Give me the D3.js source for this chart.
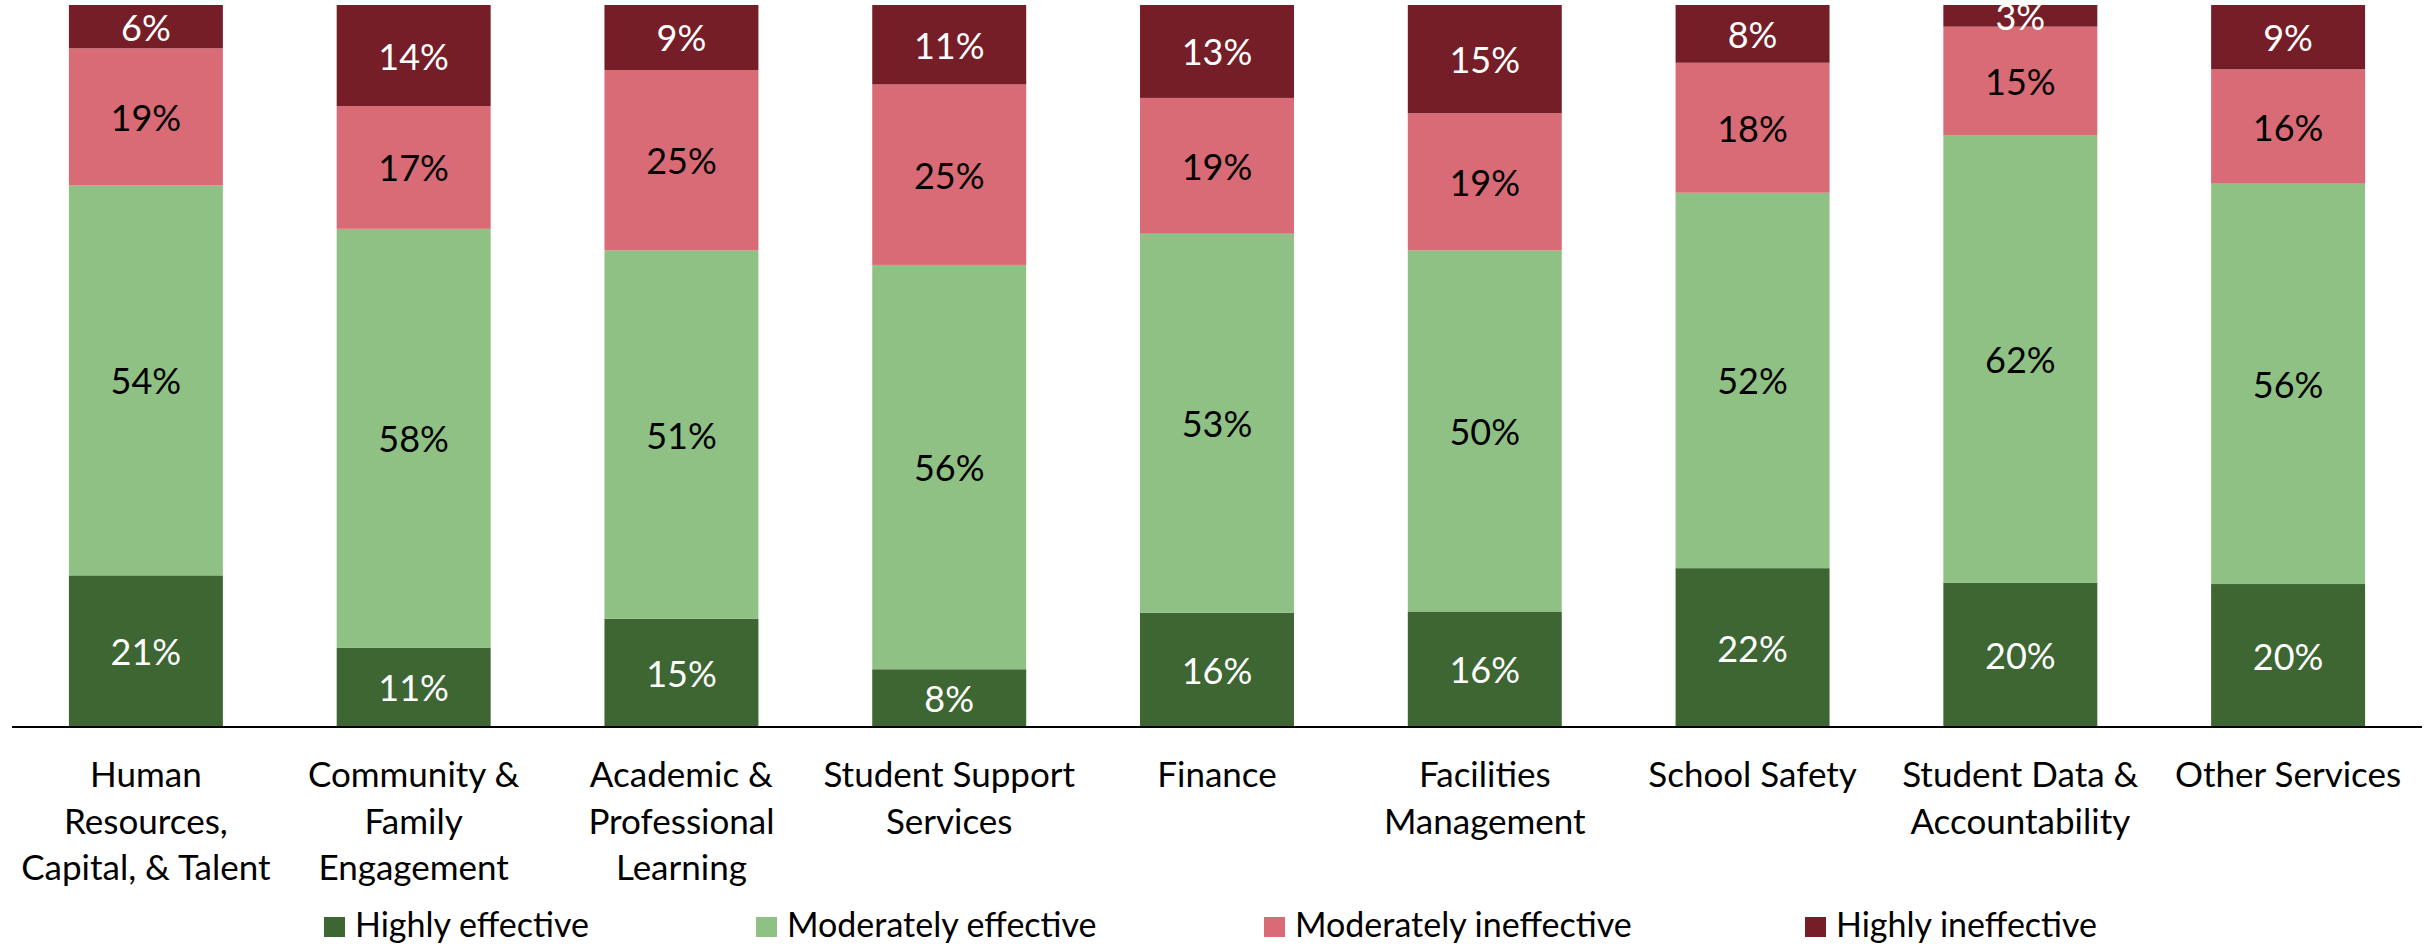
<!DOCTYPE html>
<meta charset="utf-8">
<html>
<style>
body { margin: 0; background: #fff; }
text { font-family: Lato, "Open Sans", sans-serif; }
.val { font-size: 36px; text-anchor: middle; dominant-baseline: central; }
.cat { font-size: 35px; text-anchor: middle; fill: #000; }
.leg { font-size: 34px; fill: #000; }
</style>
<svg width="2435" height="944"></svg>
<script src="https://d3js.org/d3.v7.min.js"></script>
<script>
var categories = [
  "Human Resources, Capital, & Talent", "Community & Family Engagement",
  "Academic & Professional Learning", "Student Support Services", "Finance",
  "Facilities Management", "School Safety", "Student Data & Accountability",
  "Other Services"
];
var catLines = [
  ["Human", "Resources,", "Capital, & Talent"],
  ["Community &", "Family", "Engagement"],
  ["Academic &", "Professional", "Learning"],
  ["Student Support", "Services"],
  ["Finance"],
  ["Facilities", "Management"],
  ["School Safety"],
  ["Student Data &", "Accountability"],
  ["Other Services"]
];
var seriesNames = ["Highly effective", "Moderately effective", "Moderately ineffective", "Highly ineffective"];
var highlyEffective      = [21, 11, 15,  8, 16, 16, 22, 20, 20];
var moderatelyEffective  = [54, 58, 51, 56, 53, 50, 52, 62, 56];
var moderatelyIneffective= [19, 17, 25, 25, 19, 19, 18, 15, 16];
var highlyIneffective    = [ 6, 14,  9, 11, 13, 15,  8,  3,  9];

var colors = ["#3d6632", "#8fc184", "#d96b76", "#761e28"];
var textColors = ["#fff", "#000", "#000", "#fff"];

var seriesValues = [highlyEffective, moderatelyEffective, moderatelyIneffective, highlyIneffective];
var rows = categories.map(function (c, i) {
  var r = { cat: c, lines: catLines[i] };
  seriesNames.forEach(function (s, j) { r[s] = seriesValues[j][i]; });
  return r;
});

var svg = d3.select("svg");
var x0 = 12, x1 = 2422, yTop = 5, yBase = 727;

var x = d3.scaleBand()
    .domain(categories)
    .range([x0, x1])
    .paddingInner(0.425)
    .paddingOuter(0.2125);

var y = d3.scaleLinear().domain([0, 1]).range([yBase, yTop]);

var stack = d3.stack().keys(seriesNames).offset(d3.stackOffsetExpand);
var series = stack(rows);

var layer = svg.append("g")
  .selectAll("g")
  .data(series)
  .join("g")
    .attr("fill", function (d, i) { return colors[i]; });

layer.selectAll("rect")
  .data(function (d) { return d; })
  .join("rect")
    .attr("x", function (d) { return x(d.data.cat); })
    .attr("width", x.bandwidth())
    .attr("y", function (d) { return y(d[1]); })
    .attr("height", function (d) { return y(d[0]) - y(d[1]); });

// value labels, centred in each segment
svg.append("g")
  .selectAll("g")
  .data(series)
  .join("g")
    .attr("fill", function (d, i) { return textColors[i]; })
  .selectAll("text")
  .data(function (d) { return d.map(function (p) { return { p: p, key: d.key }; }); })
  .join("text")
    .attr("class", "val")
    .attr("x", function (d) { return x(d.p.data.cat) + x.bandwidth() / 2; })
    .attr("y", function (d) { return (y(d.p[0]) + y(d.p[1])) / 2; })
    .text(function (d) { return d.p.data[d.key] + "%"; });

// baseline
svg.append("line")
    .attr("x1", x0).attr("x2", x1)
    .attr("y1", yBase).attr("y2", yBase)
    .attr("stroke", "#000").attr("stroke-width", 2);

// category labels
var cat = svg.append("g")
  .selectAll("text")
  .data(rows)
  .join("text")
    .attr("class", "cat")
    .attr("x", function (d) { return x(d.cat) + x.bandwidth() / 2; })
    .attr("y", 787);

cat.selectAll("tspan")
  .data(function (d) { return d.lines; })
  .join("tspan")
    .attr("x", function () { return d3.select(this.parentNode).attr("x"); })
    .attr("dy", function (d, i) { return i === 0 ? 0 : 46.5; })
    .text(function (d) { return d; });

// legend
var legX = [324, 756, 1264, 1805];
var leg = svg.append("g")
  .selectAll("g")
  .data(seriesNames)
  .join("g")
    .attr("transform", function (d, i) { return "translate(" + legX[i] + ",937)"; });

leg.append("rect")
    .attr("x", 0).attr("y", -20)
    .attr("width", 21).attr("height", 20)
    .attr("fill", function (d, i) { return colors[i]; });

leg.append("text")
    .attr("class", "leg")
    .attr("x", 31)
    .attr("y", 0)
    .text(function (d) { return d; });
</script>
</html>
